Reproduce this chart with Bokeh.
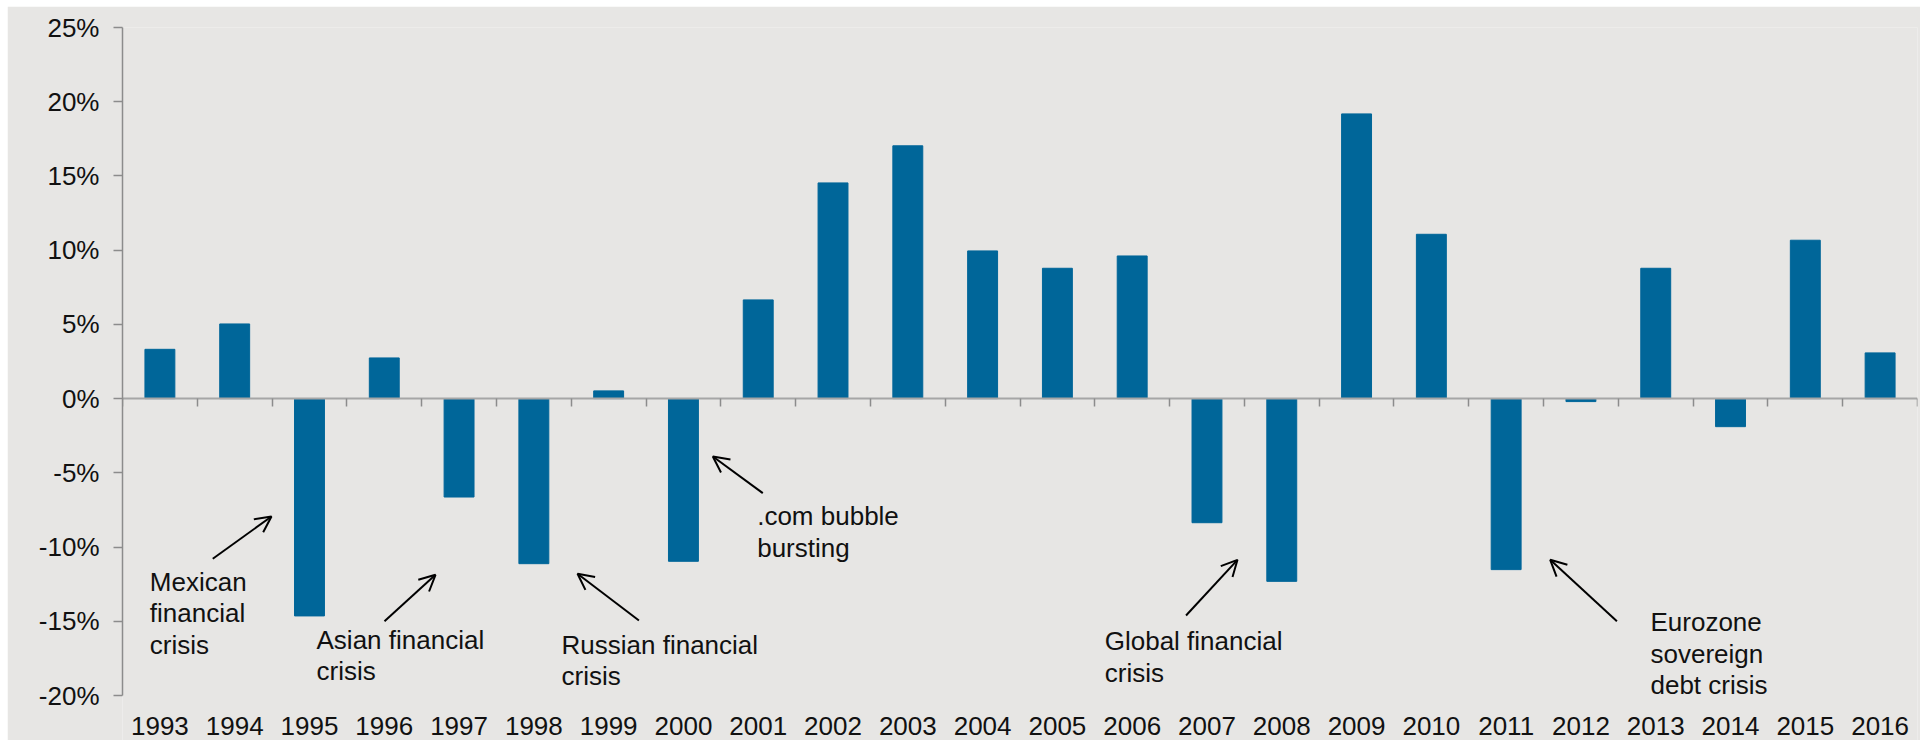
from bokeh.plotting import figure
from bokeh.models import FixedTicker, LinearAxis, Range1d, Label, Arrow, OpenHead
from bokeh.embed import file_html
from bokeh.resources import INLINE

# ---- data ----
years = list(range(1993, 2017))
returns = [3.32, 5.03, -14.64, 2.74, -6.63, -11.12, 0.52, -10.96, 6.65, 14.53,
           17.03, 9.95, 8.78, 9.61, -8.36, -12.31, 19.18, 11.07, -11.52, -0.20,
           8.78, -1.89, 10.67, 3.08]
y_ticks = [-20, -15, -10, -5, 0, 5, 10, 15, 20, 25]
y_labels = [f"{v}%" for v in y_ticks]
year_labels = [str(y) for y in years]

# annotations (data units: x in years, y in %)
ann_lines = [["Mexican", "financial", "crisis"],
             ["Asian financial", "crisis"],
             ["Russian financial", "crisis"],
             [".com bubble", "bursting"],
             ["Global financial", "crisis"],
             ["Eurozone", "sovereign", "debt crisis"]]
ann_x = [1992.865, 1995.094, 1998.37, 2000.986, 2005.633, 2012.93]
ann_y = [-13.0, -16.92, -17.26, -8.60, -17.02, -15.74]
arr_x0 = [1993.707, 1996.003, 1999.405, 2001.061, 2006.72, 2012.481]
arr_y0 = [-10.79, -15.0, -14.95, -6.37, -14.61, -15.0]
arr_x1 = [1994.492, 1996.685, 1998.584, 2000.393, 2007.408, 2011.589]
arr_y1 = [-7.94, -11.87, -11.80, -3.90, -10.86, -10.86]

BG = "#E7E6E4"
BAR = "#006699"
FONT = "Liberation Sans"
FS = "26px"

FIG_H = 734
TOP = 21
PX_PER_UNIT = 668 / (y_ticks[-1] - y_ticks[0])
y_lo = y_ticks[-1] - (FIG_H - TOP) / PX_PER_UNIT

p = figure(width=1913, height=FIG_H, output_backend="svg", toolbar_location=None,
           x_range=Range1d(years[0] - 0.5, years[-1] + 0.5),
           y_range=Range1d(y_lo, y_ticks[-1]),
           min_border_left=115, min_border_right=3, min_border_top=TOP, min_border_bottom=0)
p.margin = (6, 5, 0, 7)
p.background_fill_color = BG
p.border_fill_color = BG
p.outline_line_color = None
p.grid.visible = False

p.vbar(x=years, top=returns, bottom=0, width=0.4, fill_color=BAR, line_color=BAR)

# y axis
ya = p.yaxis[0]
ya.ticker = FixedTicker(ticks=y_ticks)
ya.bounds = (y_ticks[0], y_ticks[-1])
ya.major_label_overrides = {t: l for t, l in zip(y_ticks, y_labels)}
ya.axis_line_color = "#8C8C8C"
ya.axis_line_width = 1.5
ya.major_tick_line_color = "#8C8C8C"
ya.major_tick_line_width = 1.5
ya.major_tick_out = 9
ya.major_tick_in = 0
ya.minor_tick_line_color = None
ya.major_label_standoff = 14
ya.major_label_text_font = FONT
ya.major_label_text_font_size = FS
ya.major_label_text_color = "#111111"

# zero-line axis with boundary ticks (no labels)
xa = p.xaxis[0]
bounds = [y - 0.5 for y in years] + [years[-1] + 0.5]
xa.ticker = FixedTicker(ticks=bounds)
xa.fixed_location = 0
xa.axis_line_color = "#A6A6A6"
xa.axis_line_width = 2
xa.major_tick_line_color = "#8C8C8C"
xa.major_tick_line_width = 1.5
xa.major_tick_out = 8
xa.major_tick_in = 0
xa.minor_tick_line_color = None
xa.major_label_text_color = None
xa.major_label_standoff = 0

# year labels at the bottom of the value axis
la = LinearAxis(ticker=FixedTicker(ticks=years), fixed_location=y_ticks[0])
la.major_label_overrides = {y: l for y, l in zip(years, year_labels)}
la.axis_line_color = None
la.major_tick_line_color = None
la.minor_tick_line_color = None
la.major_label_standoff = 15
la.major_label_text_font = FONT
la.major_label_text_font_size = FS
la.major_label_text_color = "#111111"
p.add_layout(la, "below")

# annotations
for lines, x, y in zip(ann_lines, ann_x, ann_y):
    for i, t in enumerate(lines):
        p.add_layout(Label(x=x, y=y, text=t, y_offset=10 - 31.5 * i,
                           text_font=FONT, text_font_size=FS, text_color="#111111",
                           text_baseline="alphabetic", text_align="left"))
for x0, y0, x1, y1 in zip(arr_x0, arr_y0, arr_x1, arr_y1):
    p.add_layout(Arrow(x_start=x0, y_start=y0, x_end=x1, y_end=y1,
                       line_width=2, line_color="black",
                       end=OpenHead(size=16, line_width=2, line_color="black")))

open("out.html", "w").write(file_html(p, INLINE))
